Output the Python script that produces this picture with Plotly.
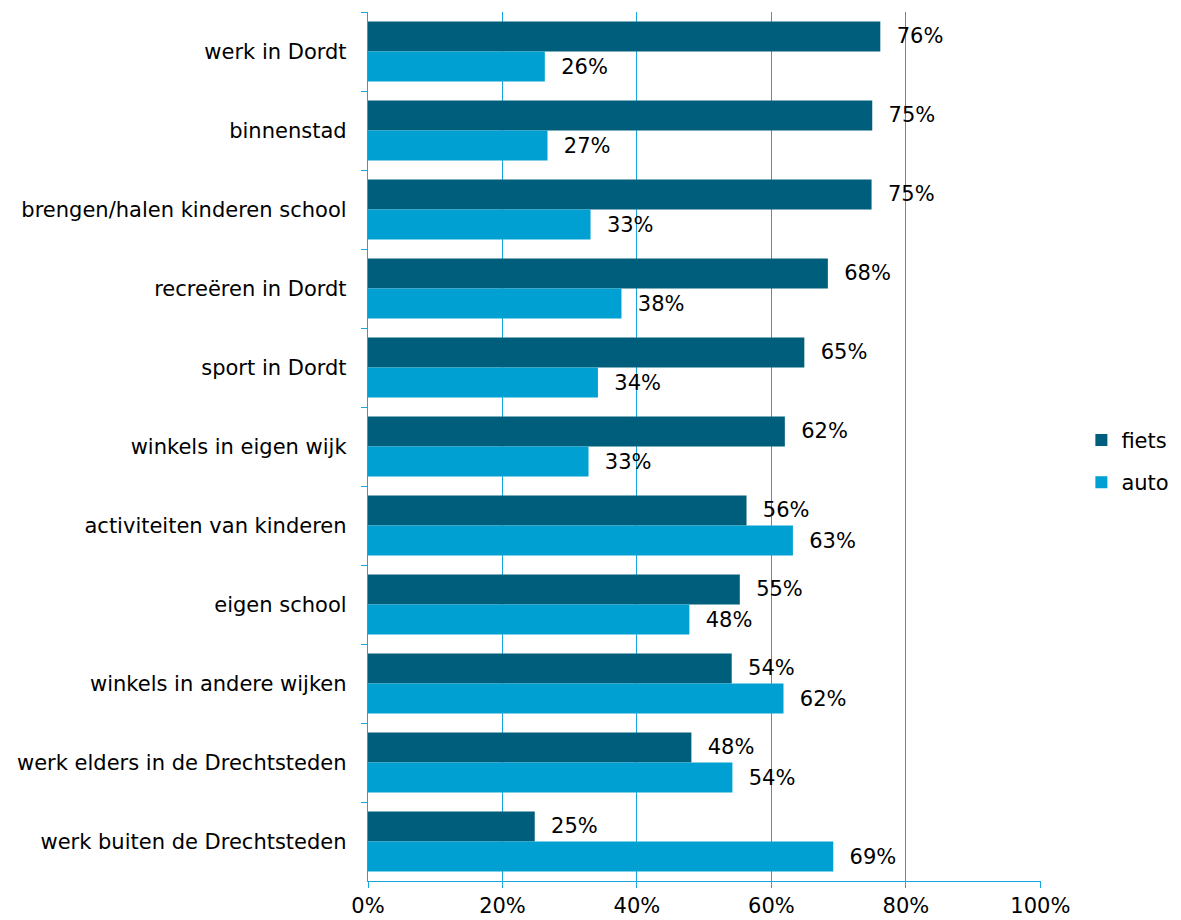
import plotly.graph_objects as go

categories = [
    "werk in Dordt",
    "binnenstad",
    "brengen/halen kinderen school",
    "recreëren in Dordt",
    "sport in Dordt",
    "winkels in eigen wijk",
    "activiteiten van kinderen",
    "eigen school",
    "winkels in andere wijken",
    "werk elders in de Drechtsteden",
    "werk buiten de Drechtsteden",
]
fiets = [76.2, 75.0, 74.9, 68.4, 64.9, 62.0, 56.3, 55.3, 54.1, 48.1, 24.8]
auto = [26.3, 26.7, 33.1, 37.7, 34.2, 32.8, 63.2, 47.8, 61.8, 54.2, 69.2]
x_ticks = [0, 20, 40, 60, 80, 100]
x_labels = [f"{v}%" for v in x_ticks]

dark = "#005E7D"
light = "#00A1D2"
grid = "#17A6DE"
font = "DejaVu Sans"
fsize = 21

fig = go.Figure()
for name, vals, col in [("fiets", fiets, dark), ("auto", auto, light)]:
    fig.add_trace(go.Bar(
        y=categories, x=vals, name=name, orientation="h",
        legendgroup=name,
        marker=dict(color=col, line=dict(width=0)),
        texttemplate="  %{x:.0f}%", textposition="outside",
        textfont=dict(family=font, size=fsize, color="black"),
        cliponaxis=False,
    ))

# the page body adds an 8px offset, so size and margins are shifted by that amount
fig.update_layout(
    width=1173, height=912,
    margin=dict(l=360, r=140, t=4, b=39),
    paper_bgcolor="white", plot_bgcolor="white",
    barmode="group", bargap=0.24, bargroupgap=0,
    font=dict(family=font, size=fsize, color="black"),
    legend=dict(x=1.06, y=0.483, yanchor="middle", xanchor="left",
                font=dict(size=fsize), itemwidth=30, tracegroupgap=12,
                borderwidth=0),
    showlegend=True,
)
fig.update_xaxes(
    range=[0, 100.1], tickvals=x_ticks, ticktext=x_labels,
    showgrid=True, gridcolor=grid, gridwidth=1.4,
    showline=True, linecolor=grid, linewidth=1.4,
    ticks="outside", ticklen=6, tickcolor=grid, tickwidth=1.4,
    zeroline=False, automargin=False,
)
fig.update_yaxes(
    autorange="reversed", showgrid=False,
    showline=True, linecolor=grid, linewidth=1.4,
    ticks="outside", ticklen=6, tickcolor=grid, tickwidth=1.4,
    tickson="boundaries",
    ticklabelstandoff=16, automargin=False,
)

fig.write_html("out.html")
